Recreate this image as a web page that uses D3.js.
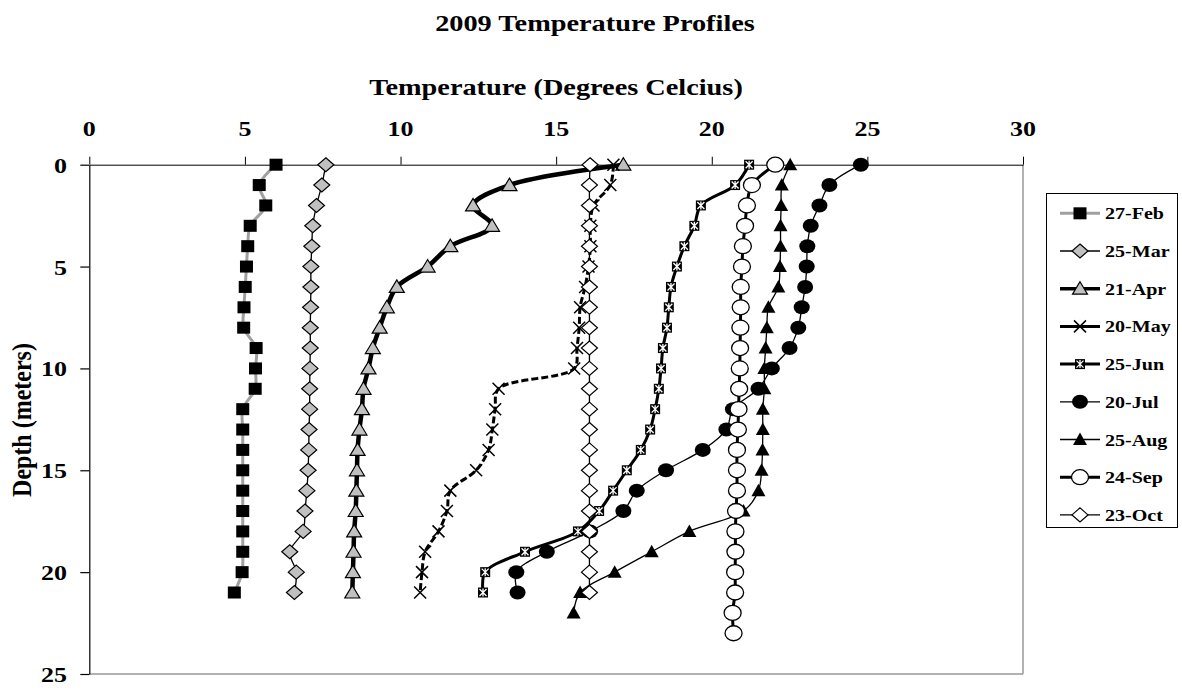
<!DOCTYPE html>
<html>
<head>
<meta charset="utf-8">
<script src="https://cdn.jsdelivr.net/npm/d3@7"></script>
<style>
  html, body { margin: 0; padding: 0; background: #fff; }
  svg text { font-family: "Liberation Serif", "Times New Roman", serif; font-weight: bold; fill: #000; }
</style>
</head>
<body>
<svg id="chart" width="1182" height="690"></svg>
<script>
// ---------------- data ----------------
const depths = [0,1,2,3,4,5,6,7,8,9,10,11,12,13,14,15,16,17,18,19,20,21,22,23];
const seriesNames = ["27-Feb","25-Mar","21-Apr","20-May","25-Jun","20-Jul","25-Aug","24-Sep","23-Oct"];
const feb27 = [6.0,5.46,5.67,5.17,5.09,5.05,5.01,4.97,4.96,5.36,5.34,5.33,4.93,4.93,4.93,4.93,4.93,4.93,4.93,4.93,4.91,4.66];
const mar25 = [7.60,7.47,7.30,7.18,7.15,7.12,7.12,7.11,7.10,7.10,7.09,7.08,7.08,7.06,7.05,7.03,6.99,6.93,6.87,6.44,6.65,6.59];
const apr21 = [17.16,13.5,12.33,12.94,11.6,10.87,9.88,9.56,9.33,9.11,8.97,8.81,8.76,8.68,8.62,8.60,8.58,8.56,8.51,8.49,8.47,8.45];
const may20 = [16.84,16.74,16.2,16.1,16.1,16.04,15.93,15.77,15.74,15.67,15.58,13.15,13.04,12.95,12.83,12.43,11.6,11.49,11.22,10.79,10.69,10.63];
const jun25 = [21.2,20.75,19.65,19.44,19.12,18.88,18.69,18.62,18.56,18.43,18.37,18.30,18.18,18.02,17.72,17.27,16.83,16.38,15.7,14.0,12.72,12.65];
const jul20 = [24.79,23.78,23.46,23.18,23.07,23.05,23.0,22.89,22.78,22.5,21.93,21.5,20.68,20.47,19.71,18.53,17.59,17.16,16.09,14.70,13.72,13.76];
const aug25 = [22.52,22.25,22.23,22.21,22.21,22.19,22.14,21.82,21.77,21.73,21.69,21.69,21.64,21.64,21.63,21.6,21.5,21.02,19.28,18.07,16.88,15.77,15.56];
const sep24 = [22.04,21.29,21.13,21.07,21.0,20.97,20.93,20.93,20.92,20.91,20.9,20.88,20.86,20.84,20.81,20.81,20.81,20.78,20.76,20.76,20.75,20.75,20.67,20.7];
const oct23 = [16.09,16.07,16.07,16.07,16.07,16.07,16.07,16.07,16.07,16.07,16.07,16.07,16.07,16.07,16.07,16.07,16.07,16.07,16.07,16.07,16.07,16.07];
const xTicks = [0,5,10,15,20,25,30];
const yTicks = [0,5,10,15,20,25];
const chartTitle = "2009 Temperature Profiles";
const xTitle = "Temperature (Degrees Celcius)";
const yTitle = "Depth (meters)";

// ---------------- styles ----------------
const styles = [
  {line:"#a0a0a0", w:3,   dash:null,  marker:"square"},
  {line:"#000",    w:1.3, dash:null,  marker:"diamondGray"},
  {line:"#000",    w:4.5, dash:null,  marker:"triGray"},
  {line:"#000",    w:3,   dash:"7,3", marker:"x"},
  {line:"#000",    w:3,   dash:null,  marker:"star"},
  {line:"#000",    w:1.3, dash:null,  marker:"circleBlack"},
  {line:"#000",    w:1.3, dash:null,  marker:"triBlack"},
  {line:"#000",    w:3,   dash:null,  marker:"circleWhite"},
  {line:"#000",    w:1.3, dash:null,  marker:"diamondWhite"}
];
const allSeries = [feb27,mar25,apr21,may20,jun25,jul20,aug25,sep24,oct23];
const SX = 1.18; // horizontal stretch of the original picture

const svg = d3.select("#chart");
const x = d3.scaleLinear().domain([0,30]).range([89.3,1023]);
const y = d3.scaleLinear().domain([0,25]).range([164.7,674]);

function stretchedText(g, str, px, py, size, anchor) {
  return g.append("text")
    .attr("transform", `translate(${px},${py}) scale(${SX},1)`)
    .attr("text-anchor", anchor)
    .style("font-size", size + "px")
    .text(str);
}

// Titles
stretchedText(svg, chartTitle, 595, 31, 24, "middle");
stretchedText(svg, xTitle, 556, 95, 24, "middle");
svg.append("text")
  .attr("transform", `translate(31,420) rotate(-90) scale(1,${SX})`)
  .attr("text-anchor", "middle")
  .style("font-size", "24px")
  .text(yTitle);

// plot area border (right & bottom gray)
svg.append("line").attr("x1", x(30)).attr("x2", x(30)).attr("y1", y(0)).attr("y2", y(25))
  .attr("stroke", "#999").attr("stroke-width", 1.5);
svg.append("line").attr("x1", x(0)).attr("x2", x(30)).attr("y1", y(25)).attr("y2", y(25))
  .attr("stroke", "#999").attr("stroke-width", 1.5);

// top x axis
const xAxis = svg.append("g").attr("transform", `translate(0,${y(0)})`)
  .call(d3.axisTop(x).tickValues(xTicks).tickSize(8).tickSizeOuter(0).tickFormat(""));
xAxis.selectAll("path,line").attr("stroke", "#000").attr("stroke-width", 1);
xTicks.forEach(t => stretchedText(svg, String(t), x(t), 136, 22, "middle"));

// left y axis
const yAxis = svg.append("g").attr("transform", `translate(${x(0)},0)`)
  .call(d3.axisLeft(y).tickValues(yTicks).tickSize(9).tickSizeOuter(0).tickFormat(""));
yAxis.selectAll("path,line").attr("stroke", "#000").attr("stroke-width", 1.2);
yTicks.forEach(t => stretchedText(svg, String(t), 67, y(t) + 8, 22, "end"));

// markers
function drawMarker(g, type, cx, cy) {
  const m = g.append("g").attr("transform", `translate(${cx},${cy})`);
  switch (type) {
    case "square":
      m.append("rect").attr("x",-6.5).attr("y",-6).attr("width",13).attr("height",12).attr("fill","#000");
      break;
    case "diamondGray":
    case "diamondWhite":
      m.append("path").attr("d","M0,-7L8,0L0,7L-8,0Z")
        .attr("fill", type === "diamondGray" ? "#c0c0c0" : "#fff")
        .attr("stroke","#000").attr("stroke-width",1.2);
      break;
    case "triGray":
      m.append("path").attr("d","M0,-7L7.5,5.5L-7.5,5.5Z")
        .attr("fill","#c0c0c0").attr("stroke","#000").attr("stroke-width",1.2);
      break;
    case "triBlack":
      m.append("path").attr("d","M0,-7L7,5.5L-7,5.5Z").attr("fill","#000");
      break;
    case "x":
      m.append("path").attr("d","M-6,-6L6,6M-6,6L6,-6").attr("stroke","#000").attr("stroke-width",1.5).attr("fill","none");
      break;
    case "star":
      m.append("rect").attr("x",-5).attr("y",-5).attr("width",10).attr("height",10).attr("fill","#000");
      m.append("path").attr("d","M-3.5,-3.5L3.5,3.5M-3.5,3.5L3.5,-3.5M0,-4L0,4").attr("stroke","#fff").attr("stroke-width",1.3);
      break;
    case "circleBlack":
      m.append("ellipse").attr("rx",8).attr("ry",7).attr("fill","#000");
      break;
    case "circleWhite":
      m.append("ellipse").attr("rx",8.5).attr("ry",7.5).attr("fill","#fff").attr("stroke","#000").attr("stroke-width",1.3);
      break;
  }
}

const lineGen = d3.line()
  .x(d => x(d.t)).y(d => y(d.d))
  .curve(d3.curveCatmullRom.alpha(0.5));

allSeries.forEach((vals, i) => {
  const st = styles[i];
  const pts = vals.map((t, k) => ({t: t, d: depths[k]}));
  const g = svg.append("g").attr("class", "series");
  g.append("path").datum(pts).attr("d", lineGen)
    .attr("fill","none").attr("stroke", st.line).attr("stroke-width", st.w)
    .attr("stroke-dasharray", st.dash).attr("stroke-linejoin","round");
  pts.forEach(p => drawMarker(g, st.marker, x(p.t), y(p.d)));
});

// legend
const lg = svg.append("g");
lg.append("rect").attr("x",1046.5).attr("y",193.5).attr("width",131).attr("height",334)
  .attr("fill","#fff").attr("stroke","#000").attr("stroke-width",1);
seriesNames.forEach((name, i) => {
  const st = styles[i];
  const yy = 213.3 + i * 37.7;
  lg.append("line").attr("x1",1060).attr("x2",1100).attr("y1",yy).attr("y2",yy)
    .attr("stroke", st.line).attr("stroke-width", Math.min(st.w, 3.5));
  drawMarker(lg, st.marker, 1080, yy);
  stretchedText(lg, name, 1105, yy + 6, 17, "start");
});
</script>
</body>
</html>
